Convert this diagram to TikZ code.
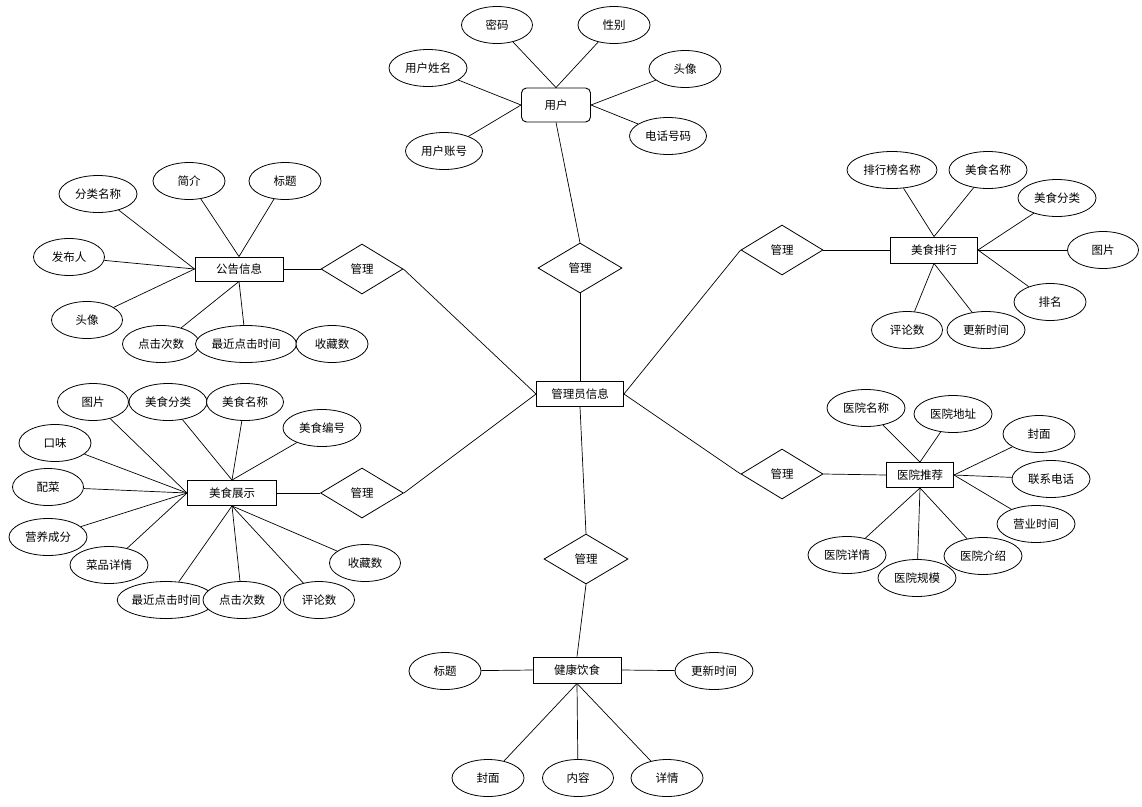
\documentclass[tikz,border=0pt]{standalone}
\usepackage{fontspec}
\setmainfont{Noto Sans CJK SC}
\usetikzlibrary{shapes.geometric}
\tikzset{
  attr/.style={ellipse, draw, fill=white, line width=0.8pt, inner sep=0pt, minimum height=37pt, font=\fontsize{11.5}{13}\selectfont},
  ent/.style={rectangle, draw, fill=white, line width=0.9pt, inner sep=0pt, minimum height=25pt, font=\fontsize{11.5}{13}\selectfont},
  rel/.style={diamond, draw, fill=white, line width=0.8pt, inner sep=0pt, minimum width=83pt, minimum height=50pt, font=\fontsize{11.5}{13}\selectfont},
  conn/.style={line width=0.7pt}
}
\begin{document}
\begin{tikzpicture}[x=1pt,y=-1pt]
\useasboundingbox (0,0) rectangle (1142,806);
% central
\node[ent, minimum width=87pt] (A) at (580,394) {管理员信息};
% user
\node[ent, rounded corners=5pt, minimum width=69pt, minimum height=34pt] (U) at (556,105) {用户};
\node[attr, minimum width=71pt] (u1) at (497,25) {密码};
\node[attr, minimum width=72pt] (u2) at (614,25) {性别};
\node[attr, minimum width=78pt] (u3) at (428,68) {用户姓名};
\node[attr, minimum width=72pt] (u4) at (685,69) {头像};
\node[attr, minimum width=77pt] (u5) at (444,151) {用户账号};
\node[attr, minimum width=77pt] (u6) at (668,136) {电话号码};
\node[rel, minimum width=84pt] (dU) at (580,268) {管理};
\draw[conn] (u1) -- (U.north);
\draw[conn] (u2) -- (U.north);
\draw[conn] (u3) -- (U.west);
\draw[conn] (u5) -- (U.west);
\draw[conn] (u4) -- (U.east);
\draw[conn] (u6) -- (U.east);
\draw[conn] (U.south) -- (dU.north);
\draw[conn] (dU.south) -- (A.north);
% gonggao
\node[ent, minimum width=88pt, minimum height=24pt] (G) at (239,269) {公告信息};
\node[attr, minimum width=78pt] (g1) at (98,194) {分类名称};
\node[attr, minimum width=72pt] (g2) at (189,181) {简介};
\node[attr, minimum width=72pt] (g3) at (285,181) {标题};
\node[attr, minimum width=71pt] (g4) at (69,257) {发布人};
\node[attr, minimum width=71pt] (g5) at (87,320) {头像};
\node[attr, minimum width=77pt] (g6) at (161,344) {点击次数};
\node[attr, minimum width=101pt] (g7) at (246,344) {最近点击时间};
\node[attr, minimum width=72pt] (g8) at (332,344) {收藏数};
\node[rel, minimum width=82pt] (dG) at (362,269) {管理};
\draw[conn] (g1) -- (G.west);
\draw[conn] (g4) -- (G.west);
\draw[conn] (g5) -- (G.west);
\draw[conn] (g2) -- (G.north);
\draw[conn] (g3) -- (G.north);
\draw[conn] (g6) -- (G.south);
\draw[conn] (g7) -- (G.south);
\draw[conn] (G.east) -- (dG.west);
\draw[conn] (dG.east) -- (A.west);
% meishi
\node[ent, minimum width=89pt] (M) at (232,493) {美食展示};
\node[attr, minimum width=71pt] (m1) at (93,402) {图片};
\node[attr, minimum width=78pt] (m2) at (168,402) {美食分类};
\node[attr, minimum width=77pt] (m3) at (245,402) {美食名称};
\node[attr, minimum width=78pt] (m4) at (322,428) {美食编号};
\node[attr, minimum width=72pt] (m5) at (55,443) {口味};
\node[attr, minimum width=71pt] (m6) at (48,487) {配菜};
\node[attr, minimum width=78pt] (m7) at (48,537) {营养成分};
\node[attr, minimum width=78pt] (m8) at (109,565) {菜品详情};
\node[attr, minimum width=96pt] (m9) at (166,600) {最近点击时间};
\node[attr, minimum width=78pt] (m10) at (242,600) {点击次数};
\node[attr, minimum width=71pt] (m11) at (319,600) {评论数};
\node[attr, minimum width=71pt] (m12) at (365,563) {收藏数};
\node[rel] (dM) at (362,493) {管理};
\foreach \n in {m1,m5,m6,m7,m8} \draw[conn] (\n) -- (M.west);
\foreach \n in {m2,m3,m4} \draw[conn] (\n) -- (M.north);
\foreach \n in {m9,m10,m11,m12} \draw[conn] (\n) -- (M.south);
\draw[conn] (M.east) -- (dM.west);
\draw[conn] (dM.east) -- (A.west);
% paihang
\node[ent, minimum width=87pt, minimum height=26pt] (P) at (934,250) {美食排行};
\node[attr, minimum width=90pt] (p1) at (892,170) {排行榜名称};
\node[attr, minimum width=78pt] (p2) at (988,170) {美食名称};
\node[attr, minimum width=78pt] (p3) at (1057,198) {美食分类};
\node[attr, minimum width=71pt] (p4) at (1103,250) {图片};
\node[attr, minimum width=72pt] (p5) at (1050,302) {排名};
\node[attr, minimum width=71pt] (p6) at (907,330) {评论数};
\node[attr, minimum width=78pt] (p7) at (986,330) {更新时间};
\node[rel, minimum width=82pt] (dP) at (782,250) {管理};
\foreach \n in {p1,p2} \draw[conn] (\n) -- (P.north);
\foreach \n in {p3,p4,p5} \draw[conn] (\n) -- (P.east);
\foreach \n in {p6,p7} \draw[conn] (\n) -- (P.south);
\draw[conn] (dP.east) -- (P.west);
\draw[conn] (A.east) -- (dP.west);
% hospital
\node[ent, minimum width=67pt] (H) at (920,475) {医院推荐};
\node[attr, minimum width=78pt] (h1) at (866,408) {医院名称};
\node[attr, minimum width=78pt] (h2) at (953,414) {医院地址};
\node[attr, minimum width=72pt] (h3) at (1039,434) {封面};
\node[attr, minimum width=78pt] (h4) at (1051,479) {联系电话};
\node[attr, minimum width=78pt] (h5) at (1036,524) {营业时间};
\node[attr, minimum width=78pt] (h7) at (917,578) {医院规模};
\node[attr, minimum width=78pt] (h6) at (983,556) {医院介绍};
\node[attr, minimum width=78pt] (h8) at (847,555) {医院详情};
\node[rel, minimum width=82pt] (dH) at (782,474) {管理};
\foreach \n in {h1,h2} \draw[conn] (\n) -- (H.north);
\foreach \n in {h3,h4,h5} \draw[conn] (\n) -- (H.east);
\foreach \n in {h6,h7,h8} \draw[conn] (\n) -- (H.south);
\draw[conn] (dH.east) -- (H.west);
\draw[conn] (A.east) -- (dH.west);
% health
\node[ent, minimum width=88pt, minimum height=26pt] (J) at (577,670) {健康饮食};
\node[attr, minimum width=72pt] (j1) at (445,671) {标题};
\node[attr, minimum width=78pt] (j2) at (714,671) {更新时间};
\node[attr, minimum width=72pt] (j3) at (488,778) {封面};
\node[attr, minimum width=71pt] (j4) at (578,778) {内容};
\node[attr, minimum width=72pt] (j5) at (667,778) {详情};
\node[rel, minimum width=84pt] (dJ) at (586,559) {管理};
\draw[conn] (j1) -- (J.west);
\draw[conn] (j2) -- (J.east);
\foreach \n in {j3,j4,j5} \draw[conn] (\n) -- (J.south);
\draw[conn] (A.south) -- (dJ.north);
\draw[conn] (dJ.south) -- (J.north);
\end{tikzpicture}
\end{document}
